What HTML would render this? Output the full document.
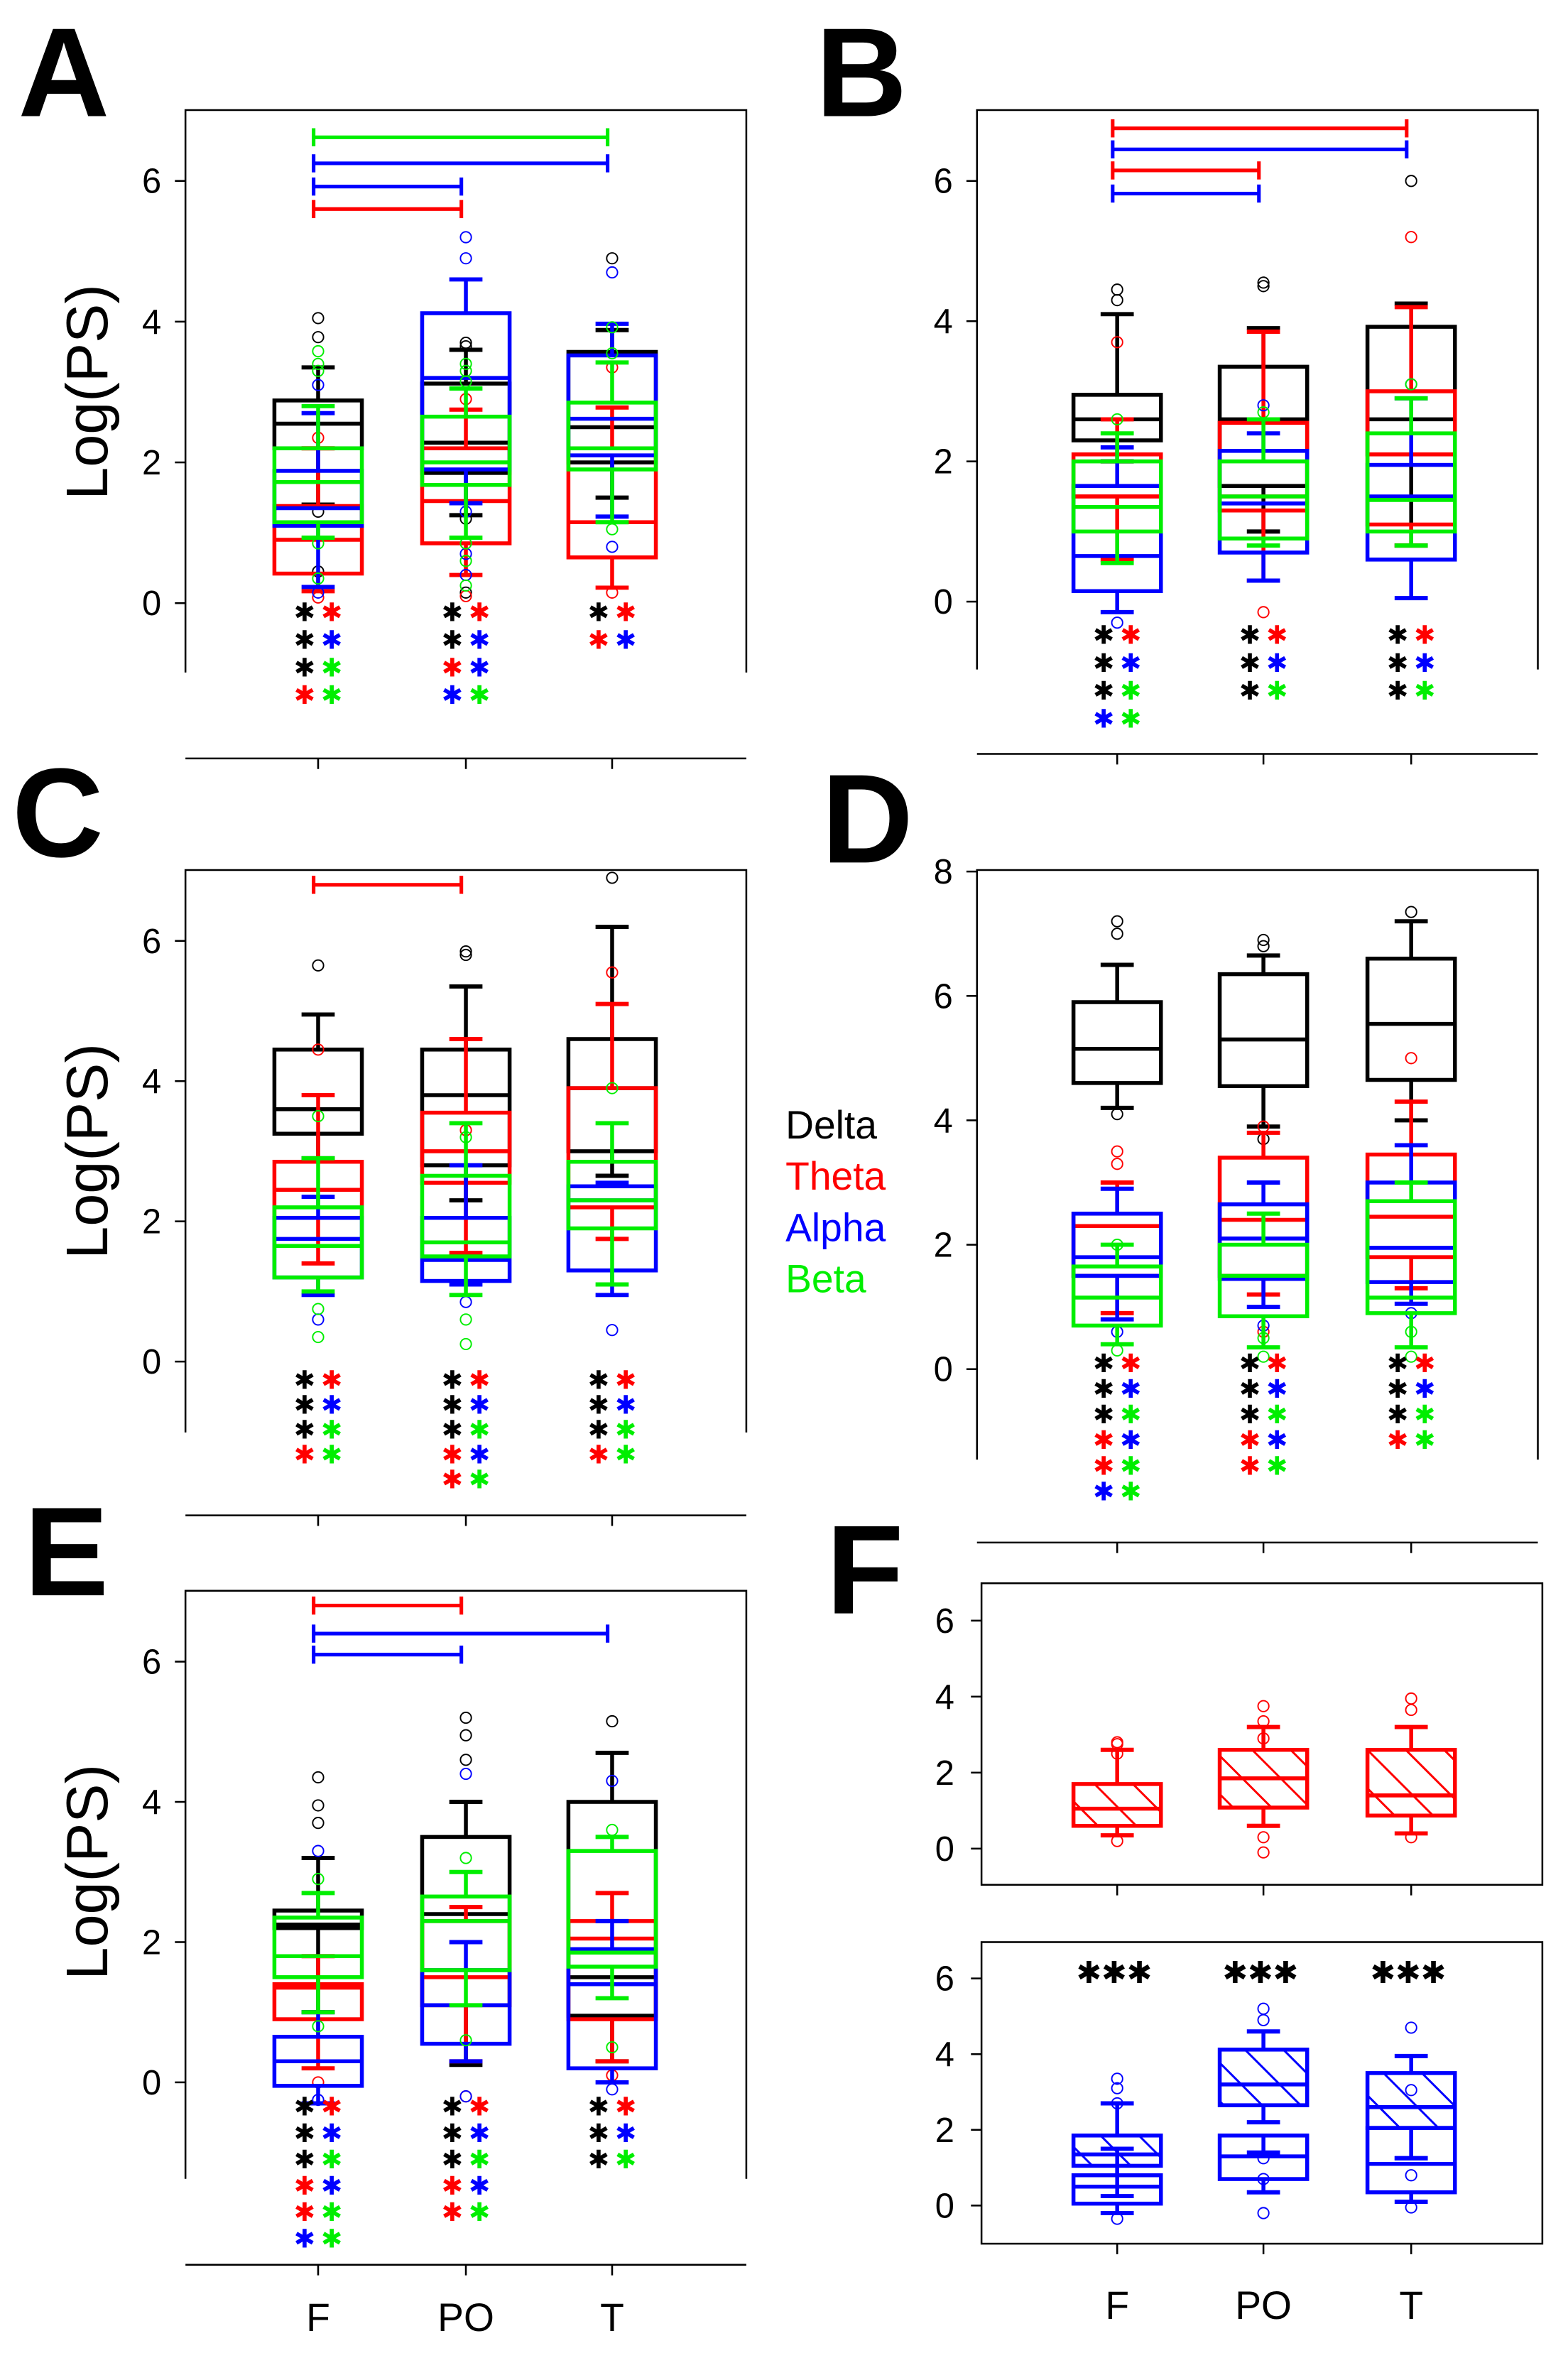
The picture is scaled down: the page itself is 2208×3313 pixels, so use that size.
<!DOCTYPE html>
<html><head><meta charset="utf-8"><style>
html,body{margin:0;padding:0;background:#fff;}
svg{display:block;}
text{font-family:"Liberation Sans","DejaVu Sans",sans-serif;}
</style></head><body>
<svg id="fig" xmlns="http://www.w3.org/2000/svg" width="2208" height="3313" viewBox="0 0 1040 1560.5">
<defs>
<pattern id="hatch-red" patternUnits="userSpaceOnUse" width="18" height="18" patternTransform="rotate(-45)"><line x1="0" y1="0" x2="0" y2="18" stroke="#ff0000" stroke-width="2.8"/></pattern>
<pattern id="hatch-blue" patternUnits="userSpaceOnUse" width="18" height="18" patternTransform="rotate(-45)"><line x1="0" y1="0" x2="0" y2="18" stroke="#0000ff" stroke-width="2.8"/></pattern>
</defs>
<g font-size="26">
<text x="521" y="755" fill="#000">Delta</text>
<text x="521" y="789" fill="#ff0000">Theta</text>
<text x="521" y="823" fill="#0000ff">Alpha</text>
<text x="521" y="857" fill="#00ee00">Beta</text>
</g>
</svg>
<script>
// ---- data ----
const categories = ["F","PO","T"];
const bands = ["delta","theta","alpha","beta"];
const boxesA = {
 delta:[[1.4,2.2,2.55,2.88,3.35],[1.25,1.85,2.28,3.12,3.6],[1.5,2.0,2.5,3.57,3.88]],
 theta:[[0.17,0.42,0.9,1.38,2.2],[0.4,0.85,1.45,2.2,2.75],[0.22,0.65,1.15,2.2,2.78]],
 alpha:[[0.23,1.1,1.35,1.88,2.7],[1.42,1.9,3.2,4.12,4.6],[1.23,2.1,2.62,3.52,3.97]],
 beta:[[0.93,1.15,1.72,2.2,2.8],[0.93,1.68,2.0,2.65,3.05],[1.15,1.9,2.2,2.85,3.42]]};
const boxesB = {
 delta:[[2.0,2.3,2.6,2.95,4.1],[1.0,1.65,2.6,3.35,3.9],[0.8,2.1,2.6,3.92,4.25]],
 theta:[[0.6,1.5,1.5,2.1,2.6],[0.3,1.3,1.5,2.55,3.85],[0.8,1.1,2.1,3.0,4.2]],
 alpha:[[-0.15,0.15,0.65,1.65,2.2],[0.3,0.7,1.4,2.15,2.4],[0.05,0.6,1.5,1.95,2.9]],
 beta:[[0.55,1.0,1.35,2.0,2.4],[0.8,0.9,1.5,2.0,2.6],[0.8,1.0,1.45,2.4,2.9]]};
const boxesC = {
 delta:[[2.9,3.25,3.6,4.45,4.95],[2.3,2.8,3.8,4.45,5.35],[2.65,3.0,3.9,4.6,6.2]],
 theta:[[1.4,2.05,2.45,2.85,3.8],[1.55,2.55,3.0,3.55,4.6],[1.75,2.2,2.85,3.9,5.1]],
 alpha:[[0.95,1.2,1.75,2.05,2.35],[1.1,1.15,1.45,2.05,2.8],[0.95,1.3,2.3,2.5,2.55]],
 beta:[[1.0,1.2,1.65,2.2,2.9],[0.95,1.5,1.7,2.65,3.4],[1.1,1.9,2.3,2.85,3.4]]};
const boxesD = {
 delta:[[4.2,4.6,5.15,5.9,6.5],[3.9,4.55,5.3,6.35,6.65],[4.0,4.65,5.55,6.6,7.2]],
 theta:[[0.9,1.5,2.3,2.5,3.0],[1.2,1.5,2.4,3.4,3.8],[1.3,1.8,2.45,3.45,4.3]],
 alpha:[[0.8,1.5,1.8,2.5,2.9],[1.0,1.45,2.1,2.65,3.0],[1.05,1.4,1.95,3.0,3.6]],
 beta:[[0.4,0.7,1.15,1.65,2.0],[0.35,0.85,1.5,2.0,2.5],[0.35,0.9,1.15,2.7,3.0]]};
const boxesE = {
 delta:[[1.0,2.2,2.25,2.45,3.2],[0.25,1.1,2.4,3.5,4.0],[0.3,0.95,1.5,4.0,4.7]],
 theta:[[0.2,0.9,1.35,1.4,1.8],[0.3,1.1,1.5,2.3,2.5],[0.3,0.9,2.05,2.3,2.7]],
 alpha:[[-0.3,-0.05,0.3,0.65,1.0],[0.3,0.55,1.1,1.6,2.0],[0.0,0.2,1.4,1.9,2.3]],
 beta:[[1.0,1.5,1.8,2.35,2.7],[1.1,1.6,2.3,2.65,3.0],[1.2,1.65,1.85,3.3,3.5]]};
const boxesFTheta = [[0.35,0.6,1.05,1.7,2.6],[0.6,1.08,1.85,2.6,3.2],[0.4,0.87,1.4,2.6,3.2]];
const boxesFAlphaLow = [[-0.2,0.05,0.5,0.8,1.5],[0.35,0.7,1.3,1.85,1.4],[0.1,0.35,1.1,2.05,1.25]];
const boxesFAlphaHigh = [[0.25,1.05,1.35,1.85,2.7],[2.2,2.65,3.2,4.12,4.6],[1.25,2.05,2.6,3.5,3.95]];
const outA = {delta:[[4.05,3.78,1.3,0.45],[3.7,3.65,1.2,0.15],[4.9]],theta:[[2.35,0.08],[2.9,0.1],[3.35,0.15]],alpha:[[3.1,0.15],[5.2,4.9,1.3,0.4,0.7],[4.7,0.8]],beta:[[3.58,3.4,3.3,0.85,0.35],[3.4,3.3,3.15,0.85,0.6,0.25],[3.92,3.55,1.05]]};
const outB = {delta:[[4.45,4.3],[4.55,4.5],[6.0]],theta:[[3.7],[-0.15],[5.2]],alpha:[[-0.3],[2.8],[3.1]],beta:[[2.6],[2.7],[3.1]]};
const outC = {delta:[[5.65],[5.8,5.85],[6.9]],theta:[[4.45],[3.3],[5.55]],alpha:[[0.6],[0.85],[0.45]],beta:[[3.5,0.75,0.35],[3.2,0.6,0.25],[3.9]]};
const outD = {delta:[[7.2,7.0,4.1],[6.8,6.9,3.7],[7.35]],theta:[[3.3,3.5],[3.9,0.6],[5.0]],alpha:[[0.6],[0.7],[0.9]],beta:[[2.0,0.3],[0.5,0.2],[0.6,0.2]]};
const outE = {delta:[[4.35,3.95,3.7],[5.2,4.95,4.6],[5.15]],theta:[[0.0],[-0.2],[0.1]],alpha:[[3.3,-0.25],[4.4,-0.2],[4.3,-0.1]],beta:[[2.9,0.8],[3.2,0.6],[3.6,0.5]]};
const outFTheta = [[2.8,2.75,2.5,0.2],[3.75,3.35,2.9,0.3,-0.1],[3.95,3.65,0.3]];
const outFAlpha = [[3.35,3.1,2.7,-0.35],[5.2,4.9,1.25,0.7,-0.2],[4.7,3.05,0.8,-0.05]];
const sigA = [["theta",0,1,5.6],["alpha",0,1,5.92],["alpha",0,2,6.25],["beta",0,2,6.62]];
const sigB = [["alpha",0,1,5.82],["theta",0,1,6.15],["alpha",0,2,6.45],["theta",0,2,6.75]];
const sigC = [["theta",0,1,6.8]];
const sigE = [["alpha",0,1,6.1],["alpha",0,2,6.4],["theta",0,1,6.8]];
const starsA = [["kr","kb","kg","rg"],["kr","kb","rb","bg"],["kr","rb"]];
const starsB = [["kr","kb","kg","bg"],["kr","kb","kg"],["kr","kb","kg"]];
const starsC = [["kr","kb","kg","rg"],["kr","kb","kg","rb","rg"],["kr","kb","kg","rg"]];
const starsD = [["kr","kb","kg","rb","rg","bg"],["kr","kb","kg","rb","rg"],["kr","kb","kg","rg"]];
const starsE = [["kr","kb","kg","rb","rg","bg"],["kr","kb","kg","rb","rg"],["kr","kb","kg"]];
const yTicks6 = [0,2,4,6];
const yTicks8 = [0,2,4,6,8];

// ---- drawing ----
const NS="http://www.w3.org/2000/svg";
const svg=document.getElementById('fig');
const COL={delta:"#000000",theta:"#ff0000",alpha:"#0000ff",beta:"#00ee00",k:"#000000",r:"#ff0000",b:"#0000ff",g:"#00ee00"};
function el(tag,attrs,parent){const e=document.createElementNS(NS,tag);for(const k in attrs)e.setAttribute(k,attrs[k]);(parent||svg).appendChild(e);return e;}
function line(p,x1,y1,x2,y2,c,w){return el('line',{x1:x1,y1:y1,x2:x2,y2:y2,stroke:c,'stroke-width':w},p);}
function txt(p,x,y,s,size,anchor,fill,weight){const t=el('text',{x:x,y:y,'font-size':size,'text-anchor':anchor||'start',fill:fill||'#000','font-weight':weight||'normal'},p);t.textContent=s;return t;}

function drawFrame(g,P){
  const f=el('path',{d:`M${P.left},${P.frameBottom}V${P.top}H${P.right}V${P.frameBottom}`,fill:'none',stroke:'#000','stroke-width':1.2},g);
  
  const ax=line(g,P.left,P.axisY,P.right,P.axisY,'#000',1.2);
  
  P.xs.forEach(x=>{const t=line(g,x,P.axisY,x,P.axisY+7,'#000',1.2);});
  P.ticks.forEach(v=>{const y=P.y(v);const t=line(g,P.left-7,y,P.left,y,'#000',1.2);
    
    const l=txt(g,P.left-16,y+8,String(v),23,'end');});
}
function drawBox(g,x,b,P,c,fill,name){
  const hw=29,cw=11;
  const bg=el('g',{},g);
  line(bg,x,P.y(b[3]),x,P.y(b[4]),c,2.6);line(bg,x,P.y(b[1]),x,P.y(b[0]),c,2.6);
  line(bg,x-cw,P.y(b[4]),x+cw,P.y(b[4]),c,2.8);line(bg,x-cw,P.y(b[0]),x+cw,P.y(b[0]),c,2.8);
  el('rect',{x:x-hw,y:P.y(b[3]),width:2*hw,height:P.y(b[1])-P.y(b[3]),fill:fill||'none',stroke:c,'stroke-width':2.6},bg);
  line(bg,x-hw,P.y(b[2]),x+hw,P.y(b[2]),c,2.6);
}
function drawOut(g,x,vals,P,c){vals.forEach(v=>{const o=el('circle',{cx:x,cy:P.y(v),r:3.6,fill:'none',stroke:c,'stroke-width':0.9},g);});}
function drawSig(g,sig,P){sig.forEach(s=>{const c=COL[s[0]],x1=P.xs[s[1]]-3,x2=P.xs[s[2]]-3,y=P.y(s[3]);
  const sg=el('g',{},g);
  line(sg,x1,y,x2,y,c,2.4);line(sg,x1,y-6,x1,y+6,c,2.4);line(sg,x2,y-6,x2,y+6,c,2.4);});}
function drawStars(g,stars,P){stars.forEach((rows,i)=>{const x=P.xs[i];rows.forEach((pr,j)=>{const y=P.y0+P.starStart+j*P.starStep+8;
  const a=txt(g,x-9,y,'✱',17,'middle',COL[pr[0]]);
  const b=txt(g,x+9,y,'✱',17,'middle',COL[pr[1]]);});});}
function panel(name,P,boxes,outs,sig,stars,letter,lx,ly,ylabel){
  P.y=v=>P.y0-v*P.unit;
  const g=el('g',{});
  drawFrame(g,P);
  bands.forEach(bd=>{P.xs.forEach((x,i)=>{drawBox(g,x,boxes[bd][i],P,COL[bd],null,'box-'+bd+'-'+categories[i]);drawOut(g,x,outs[bd][i],P,COL[bd]);});});
  drawSig(g,sig,P);drawStars(g,stars,P);
  const L=txt(g,lx,ly,letter,84,'start','#000','bold');
  if(ylabel){const yc=(P.y(0)+P.y(6))/2;const t=txt(g,0,0,'Log(PS)',39,'middle');t.setAttribute('transform',`translate(71,${yc}) rotate(-90)`);}
  return g;
}
const XL=[211,309,406],XR=[741,838,936];
panel('panel-a',{left:123,right:495,top:73,frameBottom:446,axisY:503,y0:400,unit:46.67,xs:XL,ticks:yTicks6,starStart:4,starStep:18.3},boxesA,outA,sigA,starsA,'A',12,77,true);
panel('panel-b',{left:648,right:1020,top:73,frameBottom:444,axisY:500,y0:399,unit:46.5,xs:XR,ticks:yTicks6,starStart:20,starStep:18.5},boxesB,outB,sigB,starsB,'B',541,77,false);
panel('panel-c',{left:123,right:495,top:577,frameBottom:950,axisY:1005,y0:903,unit:46.5,xs:XL,ticks:yTicks6,starStart:10,starStep:16.5},boxesC,outC,sigC,starsC,'C',8,568,true);
panel('panel-d',{left:648,right:1020,top:577,frameBottom:968,axisY:1023,y0:908,unit:41.25,xs:XR,ticks:yTicks8,starStart:-6,starStep:17},boxesD,outD,[],starsD,'D',545,572,false);
panel('panel-e',{left:123,right:495,top:1055,frameBottom:1445,axisY:1502,y0:1381,unit:46.5,xs:XL,ticks:yTicks6,starStart:14,starStep:17.5},boxesE,outE,sigE,starsE,'E',16,1058,true);
categories.forEach((c,i)=>{const t=txt(svg,XL[i],1546,c,26,'middle');});

function framedPanel(name,P){P.y=v=>P.y0-v*P.unit;const g=el('g',{});
  const r=el('rect',{x:P.left,y:P.top,width:P.right-P.left,height:P.bottom-P.top,fill:'none',stroke:'#000','stroke-width':1.2},g);
  
  P.xs.forEach(x=>{const t=line(g,x,P.bottom,x,P.bottom+7,'#000',1.2);});
  P.ticks.forEach(v=>{const y=P.y(v);const t=line(g,P.left-7,y,P.left,y,'#000',1.2);
    const l=txt(g,P.left-18,y+8,String(v),23,'end');});
  return g;}
const PF1={left:651,right:1023,top:1050,bottom:1250,y0:1226,unit:25.2,xs:XR,ticks:yTicks6};
const gF1=framedPanel('panel-f-theta',PF1);
XR.forEach((x,i)=>{drawBox(gF1,x,boxesFTheta[i],PF1,COL.theta,'url(#hatch-red)','box-theta-'+categories[i]);drawOut(gF1,x,outFTheta[i],PF1,COL.theta);});
const PF2={left:651,right:1023,top:1288,bottom:1488,y0:1462.7,unit:25.1,xs:XR,ticks:yTicks6};
const gF2=framedPanel('panel-f-alpha',PF2);
XR.forEach((x,i)=>{drawBox(gF2,x,boxesFAlphaLow[i],PF2,COL.alpha,null,'box-alpha-low-'+categories[i]);
  drawBox(gF2,x,boxesFAlphaHigh[i],PF2,COL.alpha,'url(#hatch-blue)','box-alpha-high-'+categories[i]);drawOut(gF2,x,outFAlpha[i],PF2,COL.alpha);
  const s=txt(gF2,x-2,PF2.y(6.2)+8,'✱✱✱',20,'middle','#000');
  const t=txt(svg,x,1538,categories[i],26,'middle');});
const LF=txt(svg,548,1070,'F',84,'start','#000','bold');


</script>
</body></html>
